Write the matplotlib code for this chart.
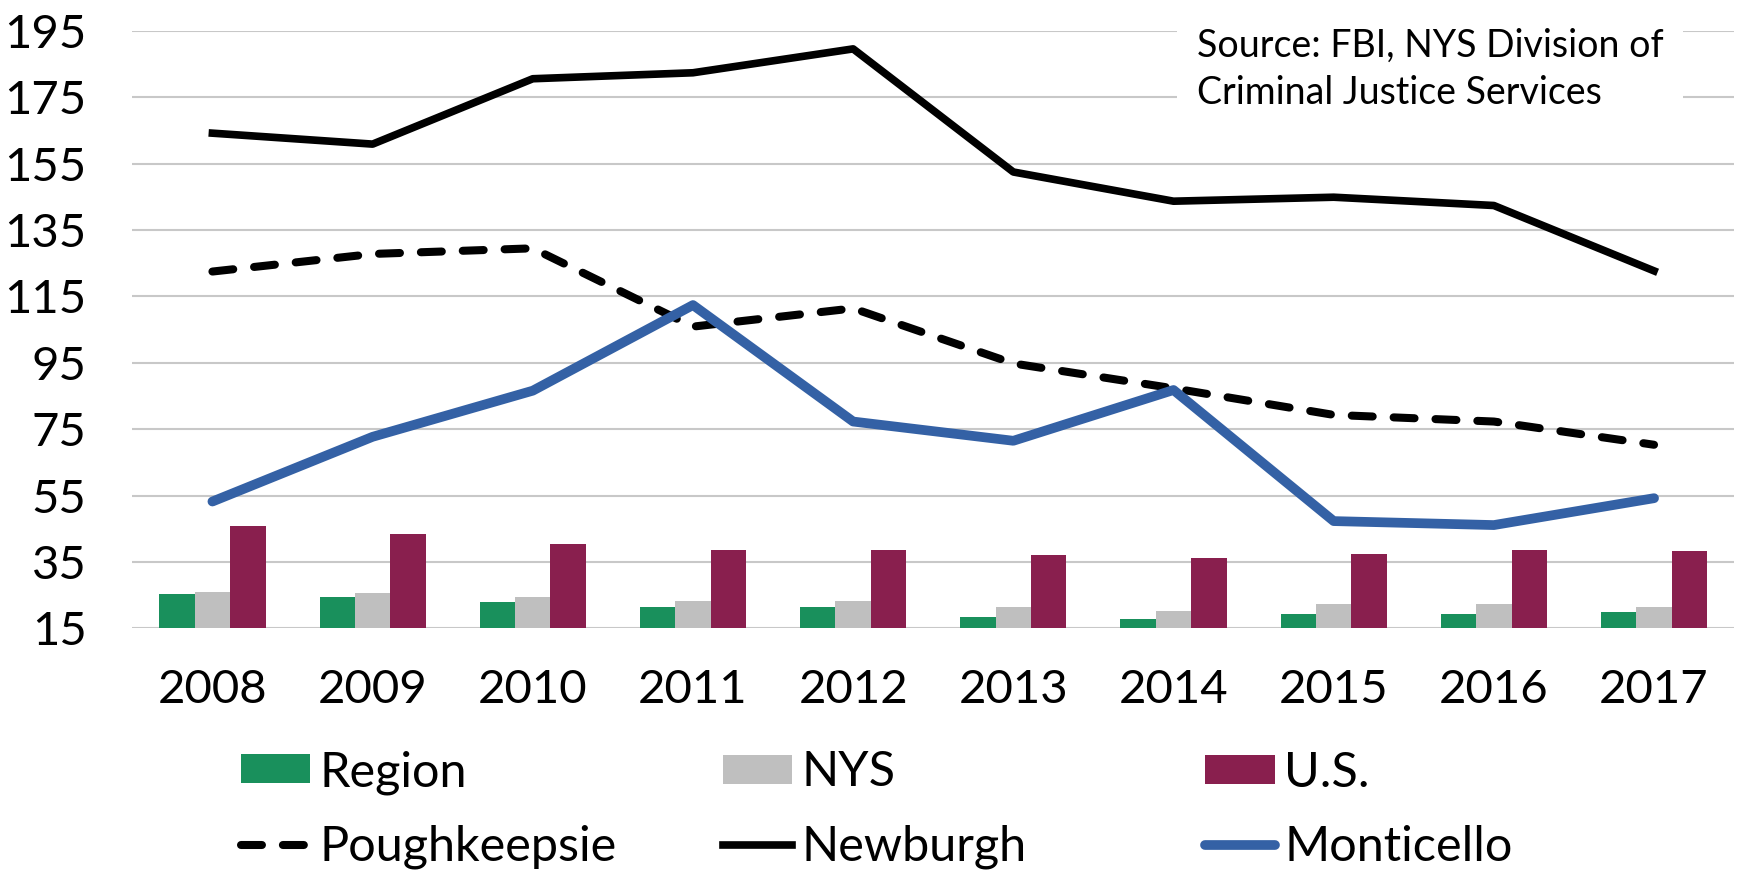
import matplotlib
matplotlib.use("Agg")
import matplotlib.pyplot as plt
import numpy as np

plt.rcParams["font.family"] = ["Lato", "DejaVu Sans"]

years = ["2008", "2009", "2010", "2011", "2012", "2013", "2014", "2015", "2016", "2017"]
region = [25.4, 24.3, 22.8, 21.3, 21.3, 18.3, 17.7, 19.4, 19.3, 19.9]
nys = [25.9, 25.5, 24.4, 23.3, 23.3, 21.3, 20.3, 22.3, 22.2, 21.3]
us = [45.8, 43.3, 40.5, 38.7, 38.7, 37.0, 36.2, 37.3, 38.6, 38.2]
poughkeepsie = [122.5, 127.8, 129.5, 105.9, 111.4, 94.8, 87.3, 79.3, 77.3, 70.3]
newburgh = [164.2, 160.9, 180.6, 182.4, 189.6, 152.5, 143.7, 144.9, 142.4, 122.7]
monticello = [53.2, 72.7, 86.6, 112.4, 77.3, 71.5, 86.8, 47.3, 46.1, 54.2]
yticks = [15, 35, 55, 75, 95, 115, 135, 155, 175, 195]

GREEN = "#19905C"
GREY = "#BFBFBF"
MAROON = "#891F4E"
BLUE = "#3461A5"

fig = plt.figure(figsize=(17.39, 8.72), dpi=100, facecolor="white")
ax = fig.add_axes([0.0761, 0.2795, 0.9211, 0.685])

x = np.arange(len(years))
w = 0.221
b1 = ax.bar(x - w, region, w, color=GREEN, zorder=2)
b2 = ax.bar(x, nys, w, color=GREY, zorder=2)
b3 = ax.bar(x + w, us, w, color=MAROON, zorder=2)

l1, = ax.plot(x, poughkeepsie, color="black", lw=5.8, dashes=(2.6, 2.6),
              dash_capstyle="round", solid_joinstyle="round", zorder=3)
l2, = ax.plot(x, newburgh, color="black", lw=5.5, zorder=3)
l3, = ax.plot(x, monticello, color=BLUE, lw=7, solid_capstyle="round", zorder=3)

ax.set_xlim(-0.5, len(years) - 0.5)
ax.set_ylim(15, 195)
ax.set_yticks(yticks)
ax.set_xticks(x)
ax.set_xticklabels(years)
ax.grid(axis="y", color="#C8C8C8", lw=1.5, zorder=0)
ax.set_axisbelow(True)
for s in ax.spines.values():
    s.set_visible(False)
ax.tick_params(axis="both", length=0, labelsize=34, colors="black")
ax.tick_params(axis="y", pad=33)
ax.tick_params(axis="x", pad=29)

ax.text(0.6883, 0.968, "Source: FBI, NYS Division of\nCriminal Justice Services",
        transform=fig.transFigure, ha="left", va="top", fontsize=27,
        linespacing=1.38, zorder=5,
        bbox=dict(facecolor="white", edgecolor="none", pad=14))

legend_kw = dict(loc="center left", frameon=False, fontsize=35, borderpad=0,
                 borderaxespad=0, handlelength=1.42, handletextpad=0.2,
                 handleheight=0.54, labelspacing=0.62)
fig.legend([b1, l1], ["Region", "Poughkeepsie"], bbox_to_anchor=(0.1384, 0.0714), **legend_kw)
fig.legend([b2, l2], ["NYS", "Newburgh"], bbox_to_anchor=(0.4158, 0.0714), **legend_kw)
fig.legend([b3, l3], ["U.S.", "Monticello"], bbox_to_anchor=(0.6932, 0.0714), **legend_kw)

fig.savefig("out.png", dpi=100, facecolor="white")
